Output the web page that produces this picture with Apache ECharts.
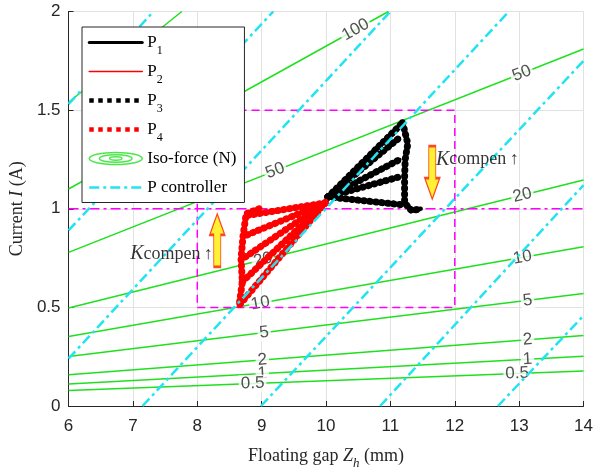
<!DOCTYPE html>
<html>
<head>
<meta charset="utf-8">
<script src="https://cdn.jsdelivr.net/npm/echarts@6/dist/echarts.min.js"></script>
<style>
  html, body { margin: 0; padding: 0; background: #fff; }
  #chart { width: 596px; height: 475px; }
</style>
</head>
<body>
<div id="chart"></div>
<script>
// ---- axis ranges ----
const xRange = [6, 14];
const yRange = [0, 2];

// ---- iso-force contours: each level is a straight line from start to end (mm, A) ----
const isoLevels = ['0.5', '1', '2', '5', '10', '20', '50', '100', '200'];
const isoStart = [[6, 0.079], [6, 0.112], [6, 0.159], [6, 0.251], [6, 0.352], [6, 0.497], [6, 0.779], [6, 1.10], [6, 1.54]];
const isoEnd = [[14, 0.178], [14, 0.252], [14, 0.357], [14, 0.570], [14, 0.807], [14, 1.146], [14, 1.81], [10.97, 2.0], [7.76, 2.0]];

// contour labels: level text and the gap position along the x axis
const isoLabelLevel = ['100', '50', '50', '20', '20', '10', '10', '5', '5', '2', '2', '1', '1', '0.5', '0.5'];
const isoLabelX = [10.46, 9.21, 13.04, 9.02, 13.05, 8.98, 13.05, 9.04, 13.13, 9.01, 13.13, 9.01, 13.13, 8.86, 12.97];

// ---- P controller lines (start, end) ----
const pctrlStart = [[6, 1.53], [6, 0.89], [6, 0.24], [7.15, 0], [8.99, 0], [10.84, 0], [12.67, 0]];
const pctrlEnd = [[7.32, 2], [9.18, 2], [11.0, 2], [12.84, 2], [14, 1.75], [14, 1.12], [14, 0.458]];

// ---- operating region ----
const boxPath = [[8, 0.5], [12, 0.5], [12, 1.5], [8, 1.5], [8, 0.5]];
const refCurrent = [[6, 1], [14, 1]];

// ---- trajectories ----
const blackOrigin = [10.03, 1.06];
const blackRayEnds = [[11.19, 1.436], [11.14, 1.36], [11.15, 1.25], [11.12, 1.16], [11.19, 1.02]];
const blackEdge = [[11.19, 1.436], [11.27, 1.33], [11.23, 1.25], [11.22, 1.16], [11.22, 1.03], [11.33, 0.99], [11.47, 1.0]];
const redOrigin = [9.99, 1.03];
const redRayEnds = [[8.76, 0.965], [8.72, 0.86], [8.70, 0.745], [8.70, 0.63], [8.65, 0.51]];
const redEdge = [[8.96, 1.0], [8.76, 0.975], [8.71, 0.86], [8.68, 0.745], [8.70, 0.63], [8.65, 0.51]];

// ---- annotations ----
const arrowUpAt = [8.31, 0.84];
const arrowDownAt = [11.65, 1.183];
const kTextAt = [[7.6, 0.77], [12.35, 1.25]];

// ---- layout ----
const W = 596, H = 475;
const GRID = { left: 66, right: 10, top: 11.5, bottom: 65.5 };
const pxPerX = (W - GRID.left - GRID.right) / (xRange[1] - xRange[0]);
const pxPerY = (H - GRID.top - GRID.bottom) / (yRange[1] - yRange[0]);

const GREEN = '#1fe01f';
const CYAN = '#22e3f2';
const MAGENTA = '#ff00ff';
const BLACK = '#000000';
const RED = '#ff0000';
const SERIF = 'Liberation Serif';
const SANS = 'Liberation Sans';

const chart = echarts.init(document.getElementById('chart'), null, { renderer: 'canvas', width: W, height: H });

const series = [];

// contour labels (also carries the legend entry for the iso-force family)
const isoLabelData = isoLabelLevel.map((lv, i) => {
  const k = isoLevels.indexOf(lv);
  const [x0, y0] = isoStart[k];
  const [x1, y1] = isoEnd[k];
  const x = isoLabelX[i];
  const y = y0 + (y1 - y0) * (x - x0) / (x1 - x0);
  const ang = Math.atan2((y1 - y0) * pxPerY, (x1 - x0) * pxPerX) * 180 / Math.PI;
  return { value: [x, y], label: { formatter: lv, rotate: ang } };
});
series.push({
  name: 'Iso-force (N)', type: 'scatter', z: 3, silent: true,
  symbol: 'circle', symbolSize: 1,
  itemStyle: { color: 'rgba(0,0,0,0)' },
  label: {
    show: true, position: 'inside', fontFamily: SANS, fontSize: 17, color: '#262626',
    backgroundColor: '#fff', padding: [0, 2]
  },
  data: isoLabelData
});

isoLevels.forEach((lv, k) => {
  series.push({
    name: 'Iso-force (N)', type: 'line', z: 2, silent: true, symbol: 'none',
    itemStyle: { color: GREEN },
    lineStyle: { color: GREEN, width: 1.5 },
    data: [isoStart[k], isoEnd[k]]
  });
});

// operating box and reference current
series.push({
  name: 'box', type: 'line', z: 4, silent: true, symbol: 'none',
  lineStyle: { color: MAGENTA, width: 1.5, type: [8, 5] },
  data: boxPath
});
series.push({
  name: 'ref', type: 'line', z: 4, silent: true, symbol: 'none',
  lineStyle: { color: MAGENTA, width: 1.5, type: [10, 4, 3, 4] },
  data: refCurrent
});

// trajectories
function addTrajectory(name, dotted, color, origin, ends, edge) {
  const style = dotted
    ? { color, width: 7, type: [0.5, 5.5], cap: 'round' }
    : { color, width: 3, join: 'round', cap: 'round' };
  ends.forEach(e => {
    series.push({
      name, type: 'line', z: 6, silent: true, symbol: 'none',
      color, itemStyle: { color }, lineStyle: style,
      data: [origin, e]
    });
  });
  series.push({
    name, type: 'line', z: 6, silent: true, symbol: 'none',
    color, itemStyle: { color },
    lineStyle: dotted ? style : { color, width: 4.5, join: 'round', cap: 'round' },
    data: edge
  });
}
addTrajectory('P1', false, BLACK, blackOrigin, blackRayEnds, blackEdge);
addTrajectory('P2', false, RED, redOrigin, redRayEnds, redEdge);
addTrajectory('P3', true, BLACK, blackOrigin, blackRayEnds, blackEdge);
addTrajectory('P4', true, RED, redOrigin, redRayEnds, redEdge);

// P controller lines
pctrlStart.forEach((s, i) => {
  series.push({
    name: 'P controller', type: 'line', z: 7, silent: true, symbol: 'none',
    itemStyle: { color: CYAN },
    lineStyle: { color: CYAN, width: 2.5, type: [10, 4, 3, 4] },
    data: [s, pctrlEnd[i]]
  });
});

// arrows
const arrowPath = 'path://M7.5,0 L15,21 L11,21 L11,53 L4,53 L4,21 L0,21 Z';
series.push({
  name: 'arrows', type: 'scatter', z: 8, silent: true,
  symbol: arrowPath, symbolSize: [15, 53],
  itemStyle: { color: '#ffee00', borderColor: '#ff1a00', borderWidth: 1.5 },
  data: [
    { value: arrowUpAt, symbolRotate: 0 },
    { value: arrowDownAt, symbolRotate: 180 }
  ]
});

// K_compen annotations
series.push({
  name: 'ktext', type: 'scatter', z: 8, silent: true,
  symbol: 'circle', symbolSize: 1, itemStyle: { color: 'rgba(0,0,0,0)' },
  label: {
    show: true, position: 'inside',
    formatter: '{k|K}{c|compen} {a|\u2191}',
    rich: {
      k: { fontFamily: SERIF, fontStyle: 'italic', fontSize: 20, color: '#000' },
      c: { fontFamily: SERIF, fontSize: 18, color: '#000' },
      a: { fontFamily: SERIF, fontSize: 18, color: '#000' }
    }
  },
  data: kTextAt
});

const subRich = {
  n: { fontFamily: SERIF, fontSize: 17, color: '#000', lineHeight: 28, verticalAlign: 'middle' },
  s: { fontFamily: SERIF, fontSize: 12, color: '#000', lineHeight: 28, verticalAlign: 'bottom' }
};
const hiddenMarker = { color: 'rgba(0,0,0,0)', borderColor: 'rgba(0,0,0,0)', borderWidth: 0 };

const option = {
  animation: false,
  backgroundColor: '#fff',
  grid: { left: GRID.left, right: GRID.right, top: GRID.top, bottom: GRID.bottom, containLabel: false },
  xAxis: {
    type: 'value', min: xRange[0], max: xRange[1], interval: 1,
    axisLine: { show: true, onZero: false, lineStyle: { color: '#262626', width: 1 } },
    axisTick: { show: true, inside: true, length: 5, lineStyle: { color: '#262626' } },
    axisLabel: { fontFamily: SANS, fontSize: 17, color: '#262626', margin: 12, showMinLabel: true, showMaxLabel: true },
    splitLine: { show: true, lineStyle: { color: '#e2e2e2', width: 1 } },
    name: 'Floating gap {i|Z}{s|h} (mm)',
    nameLocation: 'middle', nameGap: 36,
    nameTextStyle: {
      fontFamily: SERIF, fontSize: 18, color: '#262626', lineHeight: 28,
      rich: {
        i: { fontFamily: SERIF, fontStyle: 'italic', fontSize: 18, color: '#262626', lineHeight: 28, verticalAlign: 'middle' },
        s: { fontFamily: SERIF, fontStyle: 'italic', fontSize: 13, color: '#262626', lineHeight: 28, verticalAlign: 'bottom' }
      }
    }
  },
  yAxis: {
    type: 'value', min: yRange[0], max: yRange[1], interval: 0.5,
    axisLine: { show: true, onZero: false, lineStyle: { color: '#262626', width: 1 } },
    axisTick: { show: true, inside: true, length: 5, lineStyle: { color: '#262626' } },
    axisLabel: { fontFamily: SANS, fontSize: 17, color: '#262626', margin: 8, showMinLabel: true, showMaxLabel: true },
    splitLine: { show: true, lineStyle: { color: '#e2e2e2', width: 1 } },
    name: 'Current {i|I} (A)',
    nameLocation: 'middle', nameGap: 38, nameRotate: 90,
    nameTextStyle: {
      fontFamily: SERIF, fontSize: 18, color: '#262626',
      rich: { i: { fontFamily: SERIF, fontStyle: 'italic', fontSize: 18, color: '#262626' } }
    }
  },
  legend: {
    orient: 'vertical', left: 82, top: 27,
    backgroundColor: '#fff', borderColor: '#262626', borderWidth: 1,
    padding: [7, 5, 1, 5], itemGap: 6.5, itemWidth: 53, itemHeight: 14,
    selectedMode: false, z: 20,
    textStyle: { fontFamily: SERIF, fontSize: 17, color: '#000', rich: subRich },
    formatter: name => {
      const m = /^P(\d)$/.exec(name);
      return m ? '{n|P}{s|' + m[1] + '}' : '{n|' + name + '}{s| }';
    },
    data: [
      { name: 'P1', icon: 'inherit', itemStyle: hiddenMarker, lineStyle: { color: BLACK, width: 3, type: 'solid' } },
      { name: 'P2', icon: 'inherit', itemStyle: hiddenMarker, lineStyle: { color: RED, width: 1.6, type: 'solid' } },
      { name: 'P3', icon: 'inherit', itemStyle: hiddenMarker, lineStyle: { color: BLACK, width: 4.5, type: [4.5, 4.5], cap: 'butt' } },
      { name: 'P4', icon: 'inherit', itemStyle: hiddenMarker, lineStyle: { color: RED, width: 4.5, type: [4.5, 4.5], cap: 'butt' } },
      {
        name: 'Iso-force (N)',
        icon: 'path://M0.5,6.5 A26,6 0 1,0 52.5,6.5 A26,6 0 1,0 0.5,6.5 Z M10.5,6.5 A16,3.8 0 1,0 42.5,6.5 A16,3.8 0 1,0 10.5,6.5 Z M20.5,6.5 A6,1.6 0 1,0 32.5,6.5 A6,1.6 0 1,0 20.5,6.5 Z',
        itemStyle: { color: 'rgba(0,0,0,0)', borderColor: GREEN, borderWidth: 1.5 }
      },
      { name: 'P controller', icon: 'inherit', itemStyle: hiddenMarker, lineStyle: { color: CYAN, width: 2.5, type: [10, 4, 3, 4] } }
    ]
  },
  series
};

chart.setOption(option);
</script>
</body>
</html>
